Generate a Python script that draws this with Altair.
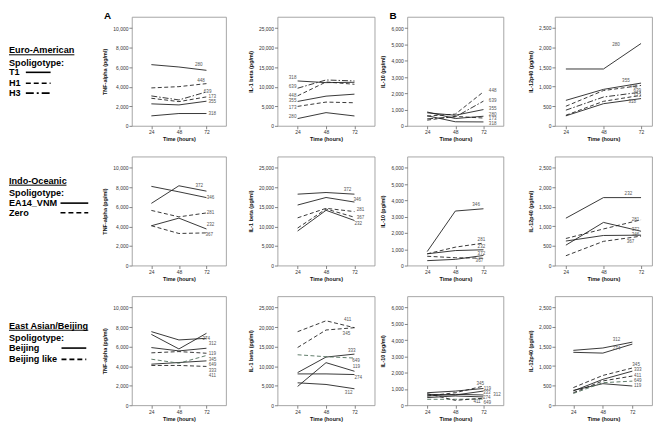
import altair as alt
import pandas as pd

HOURS = [24, 48, 72]

TNF_DOMAIN = [0, 11150]
TNF_TICKS = [0, 2000, 4000, 6000, 8000, 10000]
IL1_DOMAIN = [0, 27900]
IL1_TICKS = [0, 5000, 10000, 15000, 20000, 25000]
IL10_DOMAIN = [0, 6700]
IL10_TICKS = [0, 1000, 2000, 3000, 4000, 5000, 6000]
IL12_DOMAIN = [0, 2780]
IL12_TICKS = [0, 500, 1000, 1500, 2000, 2500]

# ---- Row 1: Euro-American
R1_ISO = ["280", "448", "639", "173", "355", "318"]
R1_STYLE = ["solid", "dash", "dashdot", "dash", "solid", "solid"]
R1_COLOR = ["#222", "#222", "#222", "#222", "#222", "#222"]
R1_TNF = [[6260, 6020, 5680], [3880, 4010, 4320], [3060, 2650, 3470], [2820, 2480, 2960], [2250, 2140, 2520], [1020, 1260, 1260]]
R1_TNF_LX = [62, 64, 69.7, 73.7, 73.7, 73.7]
R1_TNF_LY = [6225, 4560, 3470, 2925, 2480, 1190]
R1_IL1 = [[1860, 3380, 2530], [7690, 11230, 10640], [9630, 11740, 11490], [4980, 6080, 5910], [6250, 7600, 8110], [11490, 11060, 11150]]
R1_IL1_LX = [23, 23, 23, 23, 23, 23]
R1_IL1_LY = [2370, 7690, 9970, 4560, 6330, 12250]
R1_IL10 = [[850, 450, 590], [600, 720, 2090], [430, 550, 1520], [350, 580, 480], [800, 650, 1000], [620, 250, 240]]
R1_IL10_LX = [76.6, 76.6, 76.6, 76.6, 76.6, 76.6]
R1_IL10_LY = [690, 2130, 1500, 410, 1010, 120]
R1_IL12 = [[1450, 1450, 2100], [500, 900, 1030], [400, 735, 860], [270, 625, 780], [650, 930, 1090], [255, 565, 695]]
R1_IL12_LX = [53.6, 64.7, 67.2, 67.2, 59.9, 64]
R1_IL12_LY = [2060, 1000, 880, 770, 1140, 610]

# ---- Row 2: Indo-Oceanic
R2_ISO = ["372", "346", "281", "232", "367"]
R2_STYLE = ["solid", "solid", "dash", "solid", "dash"]
R2_COLOR = ["#222", "#222", "#222", "#222", "#222"]
R2_TNF = [[6360, 8160, 7610], [8100, 7540, 6950], [5640, 4980, 5380], [4070, 4850, 3740], [4070, 3280, 3340]]
R2_TNF_LX = [62.4, 72.3, 72.3, 72.3, 71.1]
R2_TNF_LY = [8160, 6950, 5380, 4100, 3150]
R2_IL1 = [[18270, 18690, 18270], [15490, 17420, 16250], [12210, 14650, 13810], [8840, 14140, 11530], [9600, 14480, 12370]]
R2_IL1_LX = [63, 71.2, 73.9, 72, 73.9]
R2_IL1_LY = [19440, 16750, 14310, 10690, 12210]
R2_IL10 = [[300, 380, 620], [860, 3350, 3490], [720, 1130, 1380], [720, 920, 970], [570, 480, 450]]
R2_IL10_LX = [67, 62.5, 67, 67, 65.3]
R2_IL10_LY = [720, 3700, 1580, 1130, 270]
R2_IL12 = [[520, 1100, 875], [625, 767, 775], [690, 933, 1167], [1208, 1733, 1733], [250, 617, 750]]
R2_IL12_LX = [66.1, 66.1, 66.1, 61.5, 62.9]
R2_IL12_LY = [917, 775, 1158, 1817, 600]

# ---- Row 3: East Asian/Beijing
R3_ISO = ["274", "312", "119", "345", "649", "333", "411"]
R3_STYLE = ["solid", "solid", "solid", "dash", "dash", "solid", "dash"]
R3_COLOR = ["#222", "#222", "#222", "#222", "#4f6e5a", "#222", "#222"]
R3_TNF = [[7250, 5760, 7360], [7530, 6680, 6850], [5900, 5560, 5830], [5360, 5490, 5320], [4710, 4300, 5090], [4200, 4370, 4540], [4070, 4070, 3970]]
R3_TNF_LX = [68.6, 74, 74, 74, 74, 74, 74]
R3_TNF_LY = [6750, 6240, 5220, 4640, 4070, 3460, 2980]
R3_IL1 = [[8020, 8020, 7860], [5740, 5320, 4220], [4810, 10900, 8700], [14780, 19260, 19850], [12920, 12420, 12080], [8360, 12330, 13090], [18830, 21620, 19850]]
R3_IL1_LX = [72, 63.9, 70.6, 62, 70.1, 66.6, 63.1]
R3_IL1_LY = [7010, 3210, 9710, 18330, 11400, 13940, 21880]
R3_IL10 = [[470, 570, 510], [570, 670, 630], [770, 870, 1030], [570, 770, 1180], [365, 365, 385], [670, 630, 870], [710, 300, 430]]
R3_IL10_LX = [71.5, 80.3, 72.3, 66.1, 72, 71.5, 63.4]
R3_IL10_LY = [470, 630, 1010, 1320, 160, 770, 200]
R3_IL12 = [[1350, 1330, 1560], [1400, 1460, 1610], [380, 550, 490], [450, 760, 950], [300, 575, 615], [365, 660, 870], [320, 620, 745]]
R3_IL12_LX = [56, 56, 73.4, 72, 73.4, 73.4, 73.4]
R3_IL12_LY = [1440, 1660, 490, 1020, 615, 895, 750]

FONT = "Liberation Sans"
DASH = {"dash": [4, 2.5], "dashdot": [6, 2, 1.5, 2]}
LEG_DASH = {"dash": [5, 3], "dashdot": [8, 3, 2, 3]}
PH = 110
DUMMY = pd.DataFrame({"a": [0]})


def panel(iso, style, color, vals, lx, ly, ytitle, ydom, yticks, xdom, width,
          align="left", letter=None, letter_x=0):
    rows = []
    for i, s, c, v in zip(iso, style, color, vals):
        for h, y in zip(HOURS, v):
            rows.append({"iso": i, "style": s, "col": c, "hour": h, "val": y})
    ldf = pd.DataFrame(rows)
    tdf = pd.DataFrame({"iso": iso, "hour": lx, "val": ly})
    x = alt.X("hour:Q", scale=alt.Scale(domain=xdom, nice=False, zero=False),
              axis=alt.Axis(values=HOURS, title="Time (hours)", format="d"))
    y = alt.Y("val:Q", scale=alt.Scale(domain=ydom, nice=False),
              axis=alt.Axis(values=yticks, format=",.0f", title=ytitle))
    layers = []
    for st in ["solid", "dash", "dashdot"]:
        sub = ldf[ldf["style"] == st]
        if sub.empty:
            continue
        mk = {"strokeWidth": 0.9}
        if st in DASH:
            mk["strokeDash"] = DASH[st]
        layers.append(alt.Chart(sub).mark_line(**mk).encode(
            x=x, y=y, detail="iso:N", color=alt.Color("col:N", scale=None)))
    layers.append(alt.Chart(tdf).mark_text(
        align=align, baseline="middle", fontSize=4.6, font=FONT, color="#555"
    ).encode(x=x, y=y, text="iso:N"))
    if letter:
        layers.append(alt.Chart(DUMMY).mark_text(
            align="left", baseline="top", fontSize=10, fontWeight="bold", font=FONT, color="#000"
        ).encode(x=alt.value(letter_x), y=alt.value(-6), text=alt.value(letter)))
    return alt.layer(*layers).properties(width=width, height=PH)


def legend_panel(group, group_y, under_w, items, sx0, sx1):
    base = alt.Chart(DUMMY)
    tk = dict(align="left", baseline="middle", fontSize=9.2, fontWeight="bold", font=FONT, color="#000")
    layers = [
        base.mark_text(**tk).encode(x=alt.value(0), y=alt.value(group_y), text=alt.value(group)),
        base.mark_rule(strokeWidth=1, color="#000").encode(
            x=alt.value(0), x2=alt.value(under_w), y=alt.value(group_y + 4.6)),
        base.mark_text(**tk).encode(x=alt.value(0), y=alt.value(group_y + 12.5), text=alt.value("Spoligotype:")),
    ]
    for lab, st, yy in items:
        layers.append(base.mark_text(**tk).encode(x=alt.value(0), y=alt.value(yy), text=alt.value(lab)))
        mk = {"strokeWidth": 1.6, "color": "#000"}
        if st in LEG_DASH:
            mk["strokeDash"] = LEG_DASH[st]
        layers.append(base.mark_rule(**mk).encode(x=alt.value(sx0), x2=alt.value(sx1), y=alt.value(yy)))
    return alt.layer(*layers).properties(width=124, height=PH, view=alt.ViewBackground(stroke="transparent"))


def spacer(w):
    return alt.Chart(DUMMY).mark_point(opacity=0, size=1).encode(
        x=alt.value(1), y=alt.value(50)
    ).properties(width=w, height=PH, view=alt.ViewBackground(stroke="transparent"))


XN = [7, 89]
XW = [17, 79]
X3 = [9, 88]


def row(leg, iso, style, color, tnf, il1, il10, il12, il12dom, first=False, il1_align="left"):
    p1 = panel(iso, style, color, tnf[0], tnf[1], tnf[2], "TNF-alpha (pg/ml)", TNF_DOMAIN, TNF_TICKS, XN, 95,
               letter="A" if first else None, letter_x=-28)
    p2 = panel(iso, style, color, il1[0], il1[1], il1[2], "IL-1 beta (pg/ml)", IL1_DOMAIN, IL1_TICKS, XN, 98,
               align=il1_align)
    p3 = panel(iso, style, color, il10[0], il10[1], il10[2], "IL-10 (pg/ml)", IL10_DOMAIN, IL10_TICKS, XN, 97,
               letter="B" if first else None, letter_x=-18)
    p4 = panel(iso, style, color, il12[0], il12[1], il12[2], "IL-12p40 (pg/ml)", IL12_DOMAIN, IL12_TICKS, il12dom, 98)
    return [leg, p1, spacer(52), p2, spacer(33), p3, spacer(52), p4]


leg1 = legend_panel("Euro-American", 33.7, 66, [("T1", "solid", 56), ("H1", "dash", 67), ("H3", "dashdot", 77)], 17, 42)
leg2 = legend_panel("Indo-Oceanic", 24.3, 58, [("EA14_VNM", "solid", 47), ("Zero", "dash", 56.7)], 52, 80)
leg3 = legend_panel("East Asian/Beijing", 29.7, 80, [("Beijing", "solid", 52.3), ("Beijing like", "dash", 63.7)], 53, 78)

cells = []
cells += row(leg1, R1_ISO, R1_STYLE, R1_COLOR,
             (R1_TNF, R1_TNF_LX, R1_TNF_LY), (R1_IL1, R1_IL1_LX, R1_IL1_LY),
             (R1_IL10, R1_IL10_LX, R1_IL10_LY), (R1_IL12, R1_IL12_LX, R1_IL12_LY), XW, first=True, il1_align="right")
cells += row(leg2, R2_ISO, R2_STYLE, R2_COLOR,
             (R2_TNF, R2_TNF_LX, R2_TNF_LY), (R2_IL1, R2_IL1_LX, R2_IL1_LY),
             (R2_IL10, R2_IL10_LX, R2_IL10_LY), (R2_IL12, R2_IL12_LX, R2_IL12_LY), XW)
cells += row(leg3, R3_ISO, R3_STYLE, R3_COLOR,
             (R3_TNF, R3_TNF_LX, R3_TNF_LY), (R3_IL1, R3_IL1_LX, R3_IL1_LY),
             (R3_IL10, R3_IL10_LX, R3_IL10_LY), (R3_IL12, R3_IL12_LX, R3_IL12_LY), X3)

chart = alt.concat(*cells, columns=8, spacing={"row": 31, "column": 0}, bounds="flush").properties(
    padding=0, background="#ffffff"
).configure_view(
    stroke="#9c9c9c", strokeWidth=0.9
).configure_axis(
    domain=False, grid=False, labelFont=FONT, labelFontSize=5, labelColor="#333",
    tickColor="#666", tickSize=3, tickWidth=0.8, labelPadding=1,
    titleFont=FONT, titleFontSize=5.5, titleFontWeight="bold", titleColor="#111"
).configure_axisX(titlePadding=2).configure_axisY(titlePadding=5)

chart.save("out.html", embed_options={"renderer": "svg", "actions": False})
